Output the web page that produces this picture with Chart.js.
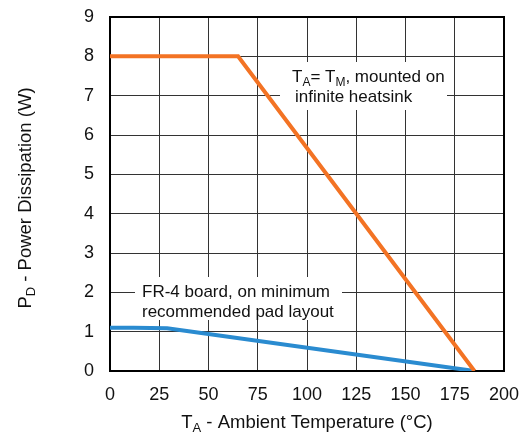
<!DOCTYPE html>
<html>
<head>
<meta charset="utf-8">
<script src="https://cdn.jsdelivr.net/npm/chart.js@4/dist/chart.umd.min.js"></script>
<style>
    html, body { margin: 0; padding: 0; background: #fff; }
    #wrap { width: 524px; height: 436px; }
</style>
</head>
<body>
<div id="wrap"><canvas id="chart" width="524" height="436"></canvas></div>
<script>
// derating curves
var tempHeatsink = [0, 65, 185];
var pdHeatsink = [8, 8, 0];
var tempBoard = [0, 12, 29, 185];
var pdBoard = [1.1, 1.1, 1.085, 0];

var xTicks = [0, 25, 50, 75, 100, 125, 150, 175, 200];
var yTicks = [0, 1, 2, 3, 4, 5, 6, 7, 8, 9];

var FONT = "'Liberation Sans', Arial, sans-serif";

function toPoints(xs, ys) {
    var pts = [];
    for (var i = 0; i < xs.length; i++) {
        pts.push({ x: xs[i], y: ys[i] });
    }
    return pts;
}

// text runs like [["T"], ["A", true], ["= "]]  (true = subscript)
function richWidth(ctx, parts, size) {
    var w = 0;
    parts.forEach(function (p) {
        ctx.font = (p[1] ? Math.round(size * 0.72) : size) + "px " + FONT;
        w += ctx.measureText(p[0]).width;
    });
    return w;
}

function drawRich(ctx, parts, x, y, size) {
    parts.forEach(function (p) {
        var s = p[1] ? Math.round(size * 0.72) : size;
        ctx.font = s + "px " + FONT;
        ctx.fillText(p[0], x, p[1] ? y + 4 : y);
        x += ctx.measureText(p[0]).width;
    });
}

var decorations = {
    id: "decorations",
    beforeDatasetsDraw: function (chart) {
        var ctx = chart.ctx;
        var a = chart.chartArea;
        ctx.save();
        // frame
        ctx.strokeStyle = "#000";
        ctx.lineWidth = 2;
        ctx.strokeRect(a.left, a.top, a.right - a.left, a.bottom - a.top);

        // label boxes blank out the grid
        ctx.fillStyle = "#fff";
        ctx.fillRect(280, 62, 167, 48);
        ctx.fillRect(135, 277, 207, 43);

        ctx.fillStyle = "#111";
        ctx.textBaseline = "alphabetic";
        ctx.textAlign = "left";
        drawRich(ctx, [["T"], ["A", true], ["= T"], ["M", true], [", mounted on"]], 292, 82, 17);
        drawRich(ctx, [["infinite heatsink"]], 295, 102, 17);
        drawRich(ctx, [["FR-4 board, on minimum"]], 142, 297, 17);
        drawRich(ctx, [["recommended pad layout"]], 142, 317, 17);
        ctx.restore();
    },
    afterDraw: function (chart) {
        var ctx = chart.ctx;
        var a = chart.chartArea;
        ctx.save();
        ctx.fillStyle = "#111";
        ctx.textBaseline = "alphabetic";
        ctx.textAlign = "left";

        var xTitle = [["T"], ["A", true], [" - Ambient Temperature (\u00B0C)"]];
        var w = richWidth(ctx, xTitle, 18.5);
        drawRich(ctx, xTitle, (a.left + a.right) / 2 - w / 2, 428, 18.5);

        var yTitle = [["P"], ["D", true], [" - Power Dissipation (W)"]];
        w = richWidth(ctx, yTitle, 18.5);
        ctx.translate(31, (a.top + a.bottom) / 2 + 4);
        ctx.rotate(-Math.PI / 2);
        drawRich(ctx, yTitle, -w / 2, 0, 18.5);
        ctx.restore();
    }
};

function noOverflow(s) {
    s.paddingTop = 0;
    s.paddingBottom = 0;
    s.paddingLeft = 0;
    s.paddingRight = 0;
}

var ctx = document.getElementById("chart").getContext("2d");
new Chart(ctx, {
    type: "line",
    data: {
        datasets: [{
            label: "Heatsink",
            data: toPoints(tempHeatsink, pdHeatsink),
            borderColor: "#F37324",
            borderWidth: 4,
            pointRadius: 0,
            fill: false,
            tension: 0
        }, {
            label: "FR-4",
            data: toPoints(tempBoard, pdBoard),
            borderColor: "#2A8BD0",
            borderWidth: 4,
            pointRadius: 0,
            fill: false,
            tension: 0
        }]
    },
    options: {
        responsive: false,
        animation: false,
        layout: { padding: { top: 17, right: 20, left: 0, bottom: 0 } },
        plugins: {
            legend: { display: false },
            tooltip: { enabled: false }
        },
        scales: {
            x: {
                type: "linear",
                min: 0,
                max: 200,
                afterBuildTicks: function (s) { s.ticks = xTicks.map(function (v) { return { value: v }; }); },
                afterFit: function (s) { s.height = 65; noOverflow(s); },
                grid: { color: "#333", lineWidth: 1, drawTicks: false },
                border: { display: false },
                ticks: { color: "#111", padding: 13, maxRotation: 0, font: { family: FONT, size: 18 } }
            },
            y: {
                min: 0,
                max: 9,
                afterBuildTicks: function (s) { s.ticks = yTicks.map(function (v) { return { value: v }; }); },
                afterFit: function (s) { s.width = 110; noOverflow(s); },
                grid: { color: "#333", lineWidth: 1, drawTicks: false },
                border: { display: false },
                ticks: { color: "#111", padding: 16, font: { family: FONT, size: 18 } }
            }
        }
    },
    plugins: [decorations]
});
</script>
</body>
</html>
